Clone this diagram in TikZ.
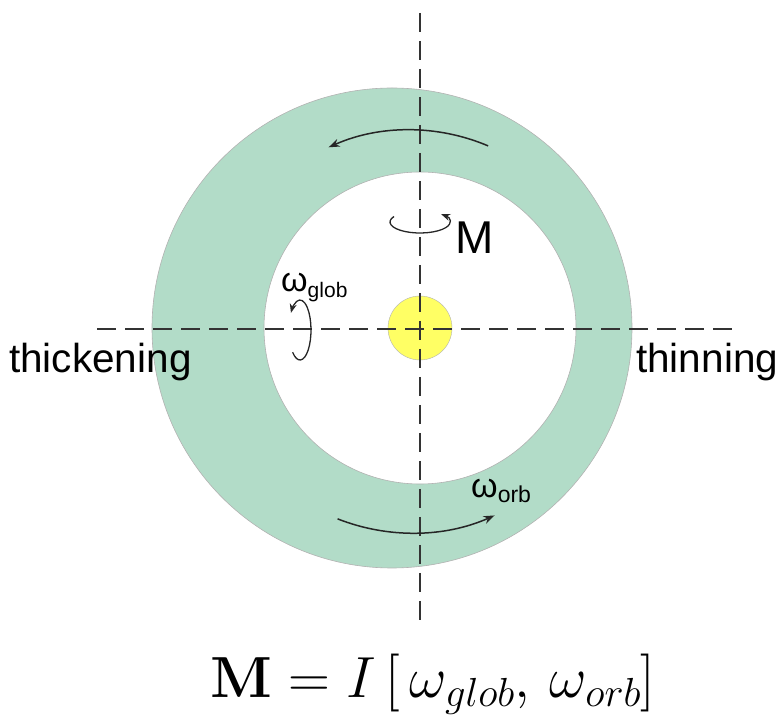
\RequirePackage{fix-cm}
\documentclass[tikz,border=0pt]{standalone}
\usepackage[no-math]{fontspec}
\setmainfont{Liberation Sans}
\usetikzlibrary{arrows.meta}

\definecolor{ringgreen}{RGB}{178,220,200}
\definecolor{staryellow}{RGB}{255,255,100}

\begin{document}
\begin{tikzpicture}[x=1pt, y=1pt,
  ringedge/.style={draw=gray!60, line width=0.6pt},
  axis/.style={line width=1.6pt, black!80, dash pattern=on 19pt off 9pt},
  rot/.style={line width=1.5pt, black!85, -{Stealth[length=11pt,width=8pt]}},
  spin/.style={rot, line width=1.3pt, -{Stealth[length=9pt,width=7pt]}},
  big/.style={font=\fontsize{40.5}{40}\selectfont, inner sep=0pt, anchor=base west},
  omg/.style={inner sep=0pt, anchor=base west}
]
\useasboundingbox (0,0) rectangle (782,723);

%% ── ring and central body ─────────────────────────
\fill[ringgreen, even odd rule] (392,395) circle[radius=240]
                                (420,395) circle[radius=156];
\draw[ringedge] (392,395) circle[radius=240];
\draw[ringedge] (420,395) circle[radius=156];
\filldraw[fill=staryellow, draw=gray!60] (420,395) circle[radius=32];

%% ── axes ─────────────────────────────────────────
\coordinate (ax_top)   at (420,710);
\coordinate (ax_bot)   at (420,98);
\coordinate (ax_left)  at (97,394);
\coordinate (ax_right) at (737,394);
\draw[axis] (ax_top)  -- (ax_bot);
\draw[axis] (ax_left) -- (ax_right);

%% ── orbital motion ───────────────────────────────
\draw[rot] (410,393) ++(67:200) arc[start angle=67, end angle=114, radius=200];
\draw[rot] (412,393) ++(248.5:203) arc[start angle=248.5, end angle=294, radius=203];

%% ── spins ────────────────────────────────────────
\draw[spin] (420,501) ++(150:30 and 11)
            arc[start angle=150, end angle=405, x radius=30, y radius=11];
\draw[spin] (300,393) ++(228:11 and 30)
            arc[start angle=228, end angle=505, x radius=11, y radius=30];

%% ── labels ───────────────────────────────────────
\node[big, font=\fontsize{46}{46}\selectfont] (lbl_M) at (455,469) {M};
\node[omg] (lbl_glob) at (281,431)
  {\fontsize{34}{34}\selectfont ω\raisebox{-6pt}{\fontsize{21}{21}\selectfont glob}};
\node[omg] (lbl_orb) at (471,225)
  {\fontsize{34}{34}\selectfont ω\raisebox{-5pt}{\fontsize{23}{23}\selectfont orb}};
\node[big] (lbl_thick) at (9,350)   {thickening};
\node[big] (lbl_thin)  at (636,350) {thinning};

%% ── relation ─────────────────────────────────────
\node[inner sep=0pt, anchor=base, font=\fontsize{58}{58}\selectfont] (eq) at (433,25)
  {$\mathbf{M} = I\,[\,\omega_{glob},\,\omega_{orb}]$};

\end{tikzpicture}
\end{document}
